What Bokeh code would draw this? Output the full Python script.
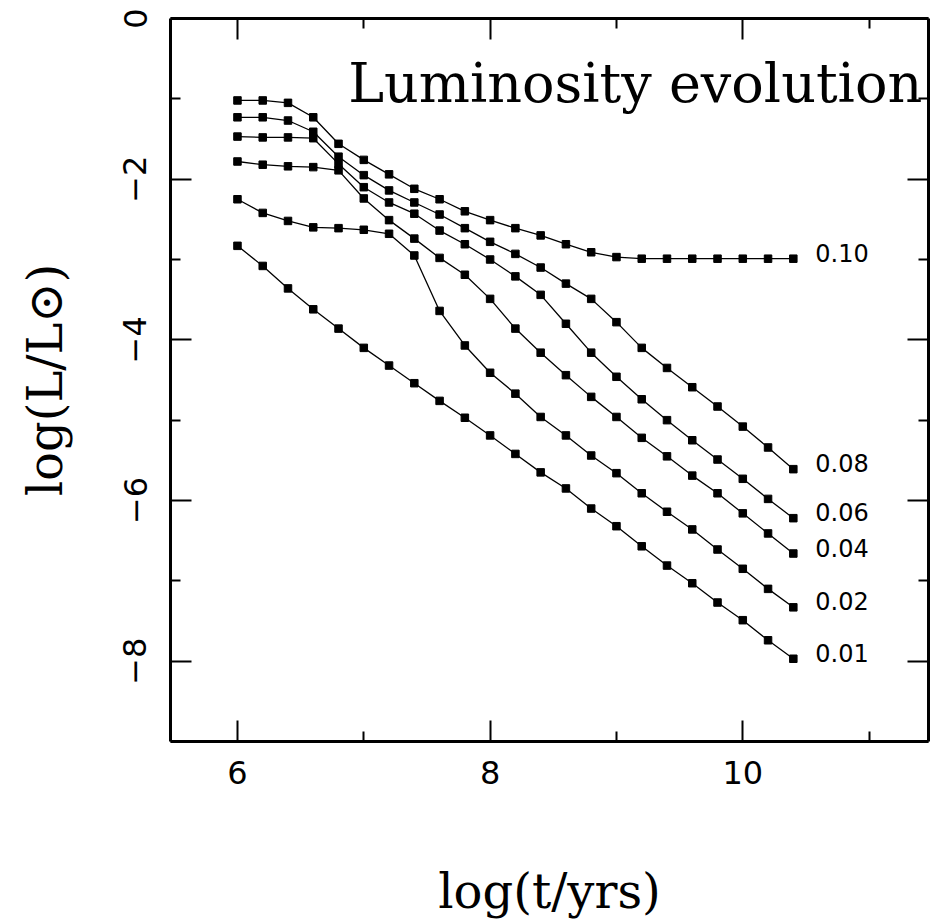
from bokeh.plotting import figure
from bokeh.models import FixedTicker, LinearAxis, Range1d, Label, ColumnDataSource, CustomJSTickFormatter
from bokeh.embed import file_html
from bokeh.resources import INLINE
from bokeh.core.properties import value

# ---- data ----
log_t = [6.0, 6.2, 6.4, 6.6, 6.8, 7.0, 7.2, 7.4, 7.6, 7.8, 8.0, 8.2,
         8.4, 8.6, 8.8, 9.0, 9.2, 9.4, 9.6, 9.8, 10.0, 10.2, 10.4]

mass_labels = ["0.10", "0.08", "0.06", "0.04", "0.02", "0.01"]

lum_010 = [-1.02, -1.02, -1.05, -1.23, -1.56, -1.76, -1.94, -2.12, -2.25, -2.40, -2.51, -2.61,
           -2.70, -2.81, -2.91, -2.97, -2.99, -2.99, -2.99, -2.99, -2.99, -2.99, -2.99]
lum_008 = [-1.23, -1.23, -1.27, -1.41, -1.72, -1.95, -2.14, -2.29, -2.44, -2.61, -2.78, -2.93,
           -3.10, -3.30, -3.49, -3.78, -4.10, -4.35, -4.59, -4.83, -5.08, -5.34, -5.61]
lum_006 = [-1.47, -1.48, -1.48, -1.49, -1.81, -2.10, -2.29, -2.43, -2.64, -2.81, -3.00, -3.21,
           -3.44, -3.80, -4.16, -4.46, -4.74, -5.00, -5.25, -5.49, -5.73, -5.98, -6.22]
lum_004 = [-1.78, -1.82, -1.84, -1.85, -1.89, -2.24, -2.51, -2.74, -2.98, -3.19, -3.49, -3.86,
           -4.16, -4.44, -4.71, -4.96, -5.22, -5.45, -5.69, -5.91, -6.16, -6.41, -6.66]
lum_002 = [-2.25, -2.42, -2.52, -2.60, -2.61, -2.63, -2.68, -2.95, -3.64, -4.07, -4.41, -4.67,
           -4.96, -5.19, -5.44, -5.66, -5.91, -6.14, -6.36, -6.61, -6.85, -7.10, -7.33]
lum_001 = [-2.83, -3.08, -3.36, -3.62, -3.86, -4.10, -4.32, -4.54, -4.76, -4.97, -5.19, -5.42,
           -5.65, -5.85, -6.10, -6.32, -6.57, -6.81, -7.03, -7.27, -7.49, -7.74, -7.97]

x_major = [6, 8, 10]
x_minor = [7, 9, 11]
y_major = [-8, -6, -4, -2, 0]
y_minor = [-9, -7, -5, -3, -1]

series = [lum_010, lum_008, lum_006, lum_004, lum_002, lum_001]

# ---- figure ----
p = figure(width=930, height=924,
           x_range=Range1d(5.47, 11.47), y_range=Range1d(-9, 0),
           output_backend="svg", toolbar_location=None,
           min_border_left=170, min_border_right=2,
           min_border_top=18, min_border_bottom=183)
p.grid.visible = False
p.outline_line_color = None
p.background_fill_color = "white"
p.border_fill_color = "white"

xa = p.below[0]
ya = p.left[0]

blank = CustomJSTickFormatter(code="return '';")
right_ax = LinearAxis(formatter=blank)
top_ax = LinearAxis(formatter=blank)
p.add_layout(right_ax, "right")
p.add_layout(top_ax, "above")

xt = FixedTicker(ticks=x_major, minor_ticks=x_minor)
yt = FixedTicker(ticks=y_major, minor_ticks=y_minor)

xa.ticker = xt
top_ax.ticker = xt
ya.ticker = yt
right_ax.ticker = yt

for ax in [xa, ya, right_ax, top_ax]:
    ax.axis_line_width = 3
    ax.axis_line_color = "black"
    ax.major_tick_in = 21
    ax.major_tick_out = 0
    ax.minor_tick_in = 10
    ax.minor_tick_out = 0
    ax.major_tick_line_width = 2
    ax.minor_tick_line_width = 2
    ax.major_tick_line_color = "black"
    ax.minor_tick_line_color = "black"

for ax in [right_ax, top_ax]:
    ax.major_label_standoff = 0

xa.major_label_text_font = "DejaVu Sans"
xa.major_label_text_font_size = "32px"
xa.major_label_text_color = "black"
xa.major_label_standoff = 19
xa.axis_label = "log(t/yrs)"
xa.axis_label_text_font = "DejaVu Serif"
xa.axis_label_text_font_size = "48px"
xa.axis_label_text_font_style = "normal"
xa.axis_label_text_color = "black"
xa.axis_label_standoff = 76

ya.major_label_orientation = "vertical"
ya.major_label_text_font = "DejaVu Sans"
ya.major_label_text_font_size = "32px"
ya.major_label_text_color = "black"
ya.major_label_standoff = 24
ya.axis_label = "log(L/L\u2299)"
ya.axis_label_text_font = "DejaVu Serif"
ya.axis_label_text_font_size = "48px"
ya.axis_label_text_font_style = "normal"
ya.axis_label_text_color = "black"
ya.axis_label_standoff = 48

for vals in series:
    p.line(log_t, vals, line_color="black", line_width=1.3)
    p.scatter(log_t, vals, marker="square", size=7.5, color="black")

end_src = ColumnDataSource(dict(
    x=[log_t[-1]] * len(series),
    y=[s[-1] for s in series],
    text=mass_labels,
))
p.text(x="x", y="y", text="text", source=end_src, x_offset=22, y_offset=-6,
       text_baseline="middle", text_align="left",
       text_font=value("DejaVu Sans"), text_font_size="24px", text_color="black")

title = Label(x=11.42, y=-0.81, text="Luminosity evolution",
              text_align="right", text_baseline="alphabetic",
              text_font="DejaVu Serif", text_font_size="54px", text_color="black")
p.add_layout(title)

open("out.html", "w").write(file_html(p, INLINE))
